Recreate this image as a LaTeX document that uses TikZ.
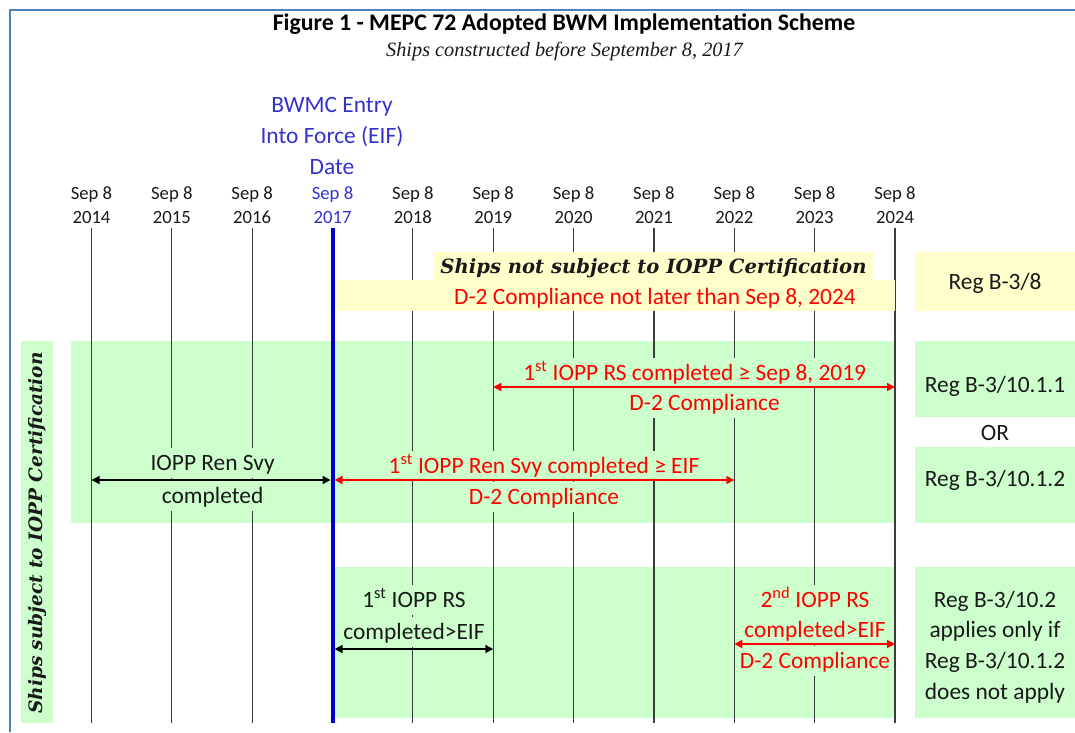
\documentclass[tikz,border=0pt]{standalone}
\usepackage{fontspec}
\setmainfont{Carlito}
\newfontfamily\timesf{Liberation Serif}
\newfontfamily\djserif{DejaVu Serif}
\usetikzlibrary{arrows.meta}
\definecolor{bgreen}{RGB}{204,255,204}
\definecolor{byellow}{RGB}{255,255,204}
\definecolor{eifblue}{RGB}{51,51,204}
\definecolor{lineblue}{RGB}{0,0,204}
\definecolor{framecol}{RGB}{79,129,189}
\definecolor{txt}{RGB}{25,25,25}
\definecolor{gridcol}{RGB}{60,60,60}
\definecolor{redtxt}{RGB}{255,0,0}
\begin{document}
\begin{tikzpicture}[x=1pt,y=-1pt,
  gridline/.style={draw=gridcol, line width=1.1pt},
  datelbl/.style={font=\fontsize{18.7}{22}\selectfont, text=txt, inner sep=0pt, text height=12pt, text depth=0pt},
  lbl/.style={font=\fontsize{23.4}{28}\selectfont, text=txt, fill=bgreen, inner xsep=2pt, inner ysep=3pt, text height=19.5pt, text depth=4.5pt},
  redlbl/.style={lbl, text=redtxt},
  regl/.style={lbl, fill=none},
  regtxt/.style={font=\fontsize{23.4}{30.8}\selectfont, text=txt, align=center, inner sep=0pt},
  serifhead/.style={font=\djserif\bfseries\itshape\fontsize{19.6}{24}\selectfont, text=txt, inner sep=0pt, text height=14.3pt, text depth=0pt},
  blkarr/.style={{Triangle[length=8pt,width=8pt]}-{Triangle[length=8pt,width=8pt]}, line width=1.5pt, draw=black},
  redarr/.style={blkarr, draw=redtxt}
]
\useasboundingbox (0,0) rectangle (1075,732);
% frame
\draw[framecol, line width=2pt] (10,732) -- (10,10) -- (1075,10);
% titles
\node[font=\bfseries\fontsize{23.8}{28}\selectfont, text=black, inner sep=0pt, text height=15.3pt, text depth=0pt] (title) at (564,23) {Figure 1 - MEPC 72 Adopted BWM Implementation Scheme};
\node[font=\timesf\itshape\fontsize{20.3}{24}\selectfont, text=txt, inner sep=0pt, text height=13.4pt, text depth=0pt] (sub) at (564.5,50) {Ships constructed before September 8, 2017};
\node[font=\fontsize{23.4}{30.7}\selectfont, text=eifblue, align=center, inner sep=0pt] (eif) at (332,136) {BWMC Entry\\Into Force (EIF)\\Date};
% date labels and line ends
\foreach \i/\yr/\c in {0/2014/txt,1/2015/txt,2/2016/txt,3/2017/eifblue,4/2018/txt,5/2019/txt,6/2020/txt,7/2021/txt,8/2022/txt,9/2023/txt,10/2024/txt}{
  \coordinate (t\i) at ({91.5+80.35*\i},228);
  \coordinate (b\i) at ({91.5+80.35*\i},723);
  \node[datelbl, text=\c] (sep\i) at ({91.5+80.35*\i},193) {Sep 8};
  \node[datelbl, text=\c] (yr\i) at ({91.5+80.35*\i},217) {\yr};
}
% green / yellow backgrounds
\fill[bgreen] (71.3,340.7) rectangle (895,523.3);
\fill[bgreen] (334.7,566.7) rectangle (895,717.7);
\fill[bgreen] (21.3,340.7) rectangle (52.7,723);
\fill[byellow] (915,252.3) rectangle (1075,310.7);
\fill[bgreen] (915,340.7) rectangle (1075,416.7);
\fill[bgreen] (915,446.7) rectangle (1075,523.3);
\fill[bgreen] (915,566.7) rectangle (1075,717.7);
% grid lines
\foreach \i in {0,1,2,4,5,6,7,8,9,10}{
  \draw[gridline] (t\i) -- (b\i);
}
% yellow band over lines
\fill[byellow] (432.7,252.3) rectangle (873.5,280);
\fill[byellow] (335,279.5) rectangle (895,310.7);
\node[serifhead] (notsubj) at (653.5,266) {Ships not subject to IOPP Certification};
\node[redlbl, fill=none] (d2y) at (655,297) {D-2 Compliance not later than Sep 8, 2024};
% vertical label
\node[serifhead, rotate=90, font=\djserif\bfseries\itshape\fontsize{18.5}{22}\selectfont, text height=13.5pt] (subj) at (36,533) {Ships subject to IOPP Certification};
% labels in green bands
\node[redlbl] (rs1) at (694.7,373) {1\textsuperscript{st} IOPP RS completed ≥ Sep 8, 2019};
\node[redlbl] (rs1b) at (704.6,403) {D-2 Compliance};
\node[lbl] (ren) at (212.6,463) {IOPP Ren Svy};
\node[lbl] (renb) at (212.6,496) {completed};
\node[redlbl] (ren1) at (544,466) {1\textsuperscript{st} IOPP Ren Svy completed ≥ EIF};
\node[redlbl] (ren1b) at (544,497) {D-2 Compliance};
\node[lbl] (rsl) at (414,600) {1\textsuperscript{st} IOPP RS};
\node[lbl] (rslb) at (414,631.7) {completed>EIF};
\node[redlbl] (rs2) at (815,600) {2\textsuperscript{nd} IOPP RS};
\node[redlbl] (rs2b) at (815,630) {completed>EIF};
\node[redlbl] (rs2c) at (815,661) {D-2 Compliance};
% right column
\node[regl] (reg1) at (995,282) {Reg B-3/8};
\node[regl] (reg2) at (995,385) {Reg B-3/10.1.1};
\node[regl] (orl) at (995,433) {OR};
\node[regl] (reg3) at (995,479) {Reg B-3/10.1.2};
\node[regtxt] (reg4) at (995,647) {Reg B-3/10.2\\applies only if\\Reg B-3/10.1.2\\does not apply};
% EIF line
\draw[lineblue, line width=4pt] (t3) -- (b3);
% arrows
\coordinate (row1) at (0,387);
\coordinate (row2) at (0,480);
\coordinate (row3) at (0,649);
\coordinate (row4) at (0,644);
\draw[redarr] (t5 |- row1) -- (t10 |- row1);
\draw[blkarr, shorten >=2pt] (t0 |- row2) -- (t3 |- row2);
\draw[redarr, shorten <=2pt] (t3 |- row2) -- (t8 |- row2);
\draw[blkarr, shorten <=2pt] (t3 |- row3) -- (t5 |- row3);
\draw[redarr] (t8 |- row4) -- (t10 |- row4);
\end{tikzpicture}
\end{document}
